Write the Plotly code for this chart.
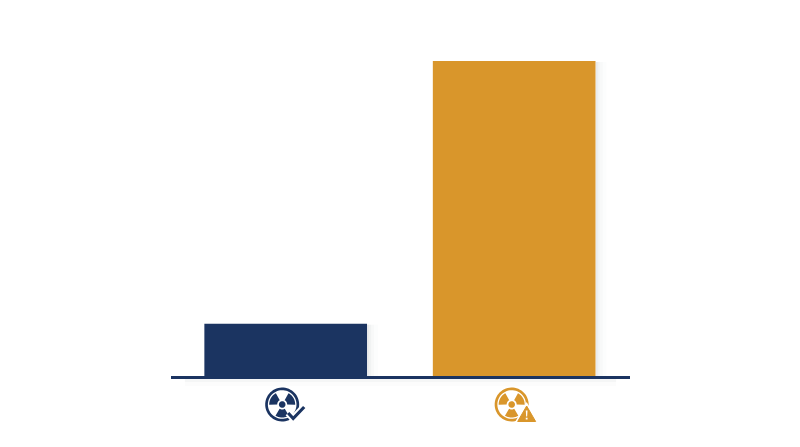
import numpy as np
import plotly.graph_objects as go

categories = ["Safe", "Warning"]
values = [16.6, 100]
bar_colors = ["#1b3461", "#d9962b"]
NAVY = "#1b3461"
ORANGE = "#d9962b"


def arc(cx, cy, r, a0, a1, n=24):
    t = np.radians(np.linspace(a0, a1, n))
    return [(cx + r * np.cos(a), cy + r * np.sin(a)) for a in t]


def to_path(points):
    return "M" + " L".join(f"{x:.2f},{y:.2f}" for x, y in points) + " Z"


def icon_paths(cx, cy):
    # ring, three blades and hub of the radiation sign (pixels, y up)
    parts = [to_path(arc(cx, cy, 17, 0, 360, 60)) + " " + to_path(arc(cx, cy, 14.3, 360, 0, 60))]
    for mid in (30, 150, 270):
        outer = arc(cx, cy, 13, mid - 31, mid + 31)
        inner = arc(cx, cy, 5, mid + 31, mid - 31, 10)
        parts.append(to_path(outer + inner))
    parts.append(to_path(arc(cx, cy, 3.3, 0, 360, 30)))
    return " ".join(parts)


def pixel_shape(cat, path, fill, line=None, width=0):
    return dict(type="path", xref="x", yref="paper", xsizemode="pixel", ysizemode="pixel",
                xanchor=cat, yanchor=0, path=path, fillcolor=fill,
                line=dict(color=line or fill, width=width), layer="above")


fig = go.Figure(go.Bar(x=categories, y=values, marker_color=bar_colors, marker_line_width=0,
                       width=0.712, hoverinfo="skip"))

shapes = []

# soft shadow to the right of each bar and under the baseline
for i, v in enumerate(values):
    for off, alpha in ((2, 0.04), (4, 0.03), (7, 0.02), (11, 0.012)):
        shapes.append(dict(type="rect", xref="x", yref="y", xsizemode="pixel", xanchor=i,
                           x0=81.5, x1=81.5 + off, y0=0, y1=v - 0.3, layer="below",
                           fillcolor=f"rgba(40,50,70,{alpha})", line_width=0))
for off, alpha in ((3, 0.05), (6, 0.03), (10, 0.015)):
    shapes.append(dict(type="rect", xref="paper", yref="paper", ysizemode="pixel", yanchor=0,
                       x0=0.03, x1=0.97, y0=0, y1=-off, layer="below",
                       fillcolor=f"rgba(40,50,70,{alpha})", line_width=0))

# icon under the first bar: radiation sign with a check mark
shapes.append(pixel_shape(0, icon_paths(-3.5, -28.5), NAVY))
shapes.append(pixel_shape(0, "M2.5,-37 L7.5,-42.5 L18.5,-31", "rgba(0,0,0,0)", "white", 7))
shapes.append(pixel_shape(0, "M2.5,-37 L7.5,-42.5 L18.5,-31", "rgba(0,0,0,0)", NAVY, 3.2))

# icon under the second bar: radiation sign with a warning triangle
shapes.append(pixel_shape(1, icon_paths(-2.5, -28.5), ORANGE))
shapes.append(pixel_shape(1, "M12.5,-30 L3.5,-45.5 L21.5,-45.5 Z", "white", "white", 4))
shapes.append(pixel_shape(1, "M12.5,-30 L3.5,-45.5 L21.5,-45.5 Z", ORANGE, ORANGE, 1))
shapes.append(pixel_shape(1, "M11.6,-34.5 L13.4,-34.5 L13,-40.5 L12,-40.5 Z", "white"))
shapes.append(pixel_shape(1, "M11.6,-41.7 L13.4,-41.7 L13.4,-43.5 L11.6,-43.5 Z", "white"))

fig.update_layout(
    width=800, height=447,
    margin=dict(l=170.5, r=169.5, t=61, b=70.5),
    paper_bgcolor="white", plot_bgcolor="white",
    showlegend=False,
    xaxis=dict(showticklabels=False, ticks="", showgrid=False, zeroline=False,
               showline=True, linecolor=NAVY, linewidth=3, range=[-0.502, 1.507]),
    yaxis=dict(visible=False, range=[0, 100]),
    shapes=shapes,
)

# page has a default body margin that shifts the chart
fig.write_html("out.html", config={"displayModeBar": False},
               post_script="document.body.style.margin='0';")
